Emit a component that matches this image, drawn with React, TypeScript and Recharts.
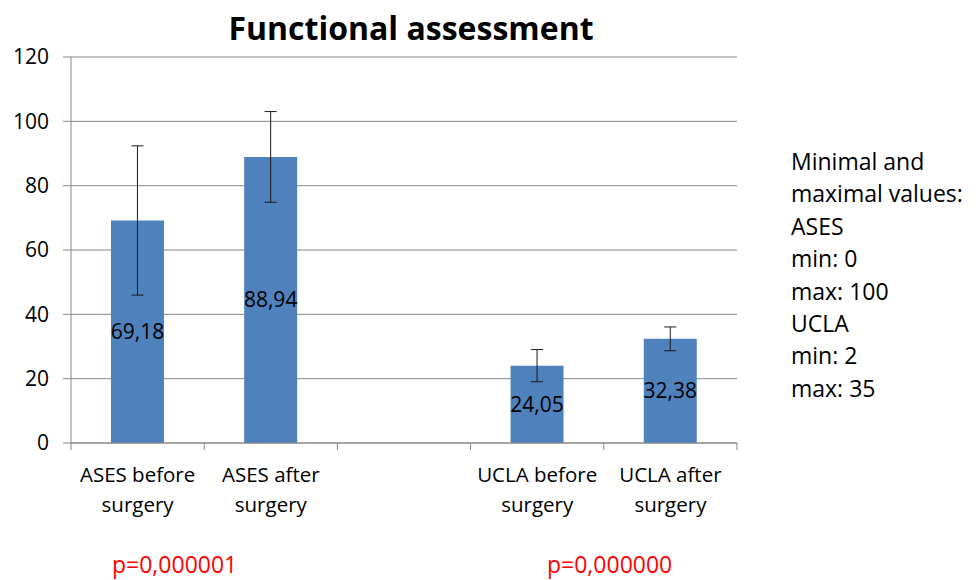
import React from "react";
import {
  BarChart,
  Bar,
  XAxis,
  YAxis,
  CartesianGrid,
  ErrorBar,
  LabelList,
} from "recharts";

const categories = [
  "ASES before surgery",
  "ASES after surgery",
  "",
  "UCLA before surgery",
  "UCLA after surgery",
];
const means = [69.18, 88.94, null, 24.05, 32.38];
const errors = [23.2, 14.1, null, 5.0, 3.7];
const yTicks = [0, 20, 40, 60, 80, 100, 120];
const noteLines = [
  "Minimal and",
  "maximal values:",
  "ASES",
  "min: 0",
  "max: 100",
  "UCLA",
  "min: 2",
  "max: 35",
];
const pValues = ["p=0,000001", "p=0,000000"];

const data = categories.map((name, i) => ({
  name,
  value: means[i],
  err: errors[i],
}));

const FONT = "'Open Sans', sans-serif";
const GRID = "#868686";

function CategoryTick(props: any) {
  const { x, y, payload, index, visibleTicksCount } = props;
  const half = payload?.offset ?? 66.6;
  const words = String(payload.value).split(" ");
  const line1 = words.slice(0, 2).join(" ");
  const line2 = words.slice(2).join(" ");
  const last = index === visibleTicksCount - 1;
  return (
    <g>
      <line x1={x - half} x2={x - half} y1={y} y2={y + 7} stroke={GRID} />
      {last && (
        <line x1={x + half} x2={x + half} y1={y} y2={y + 7} stroke={GRID} />
      )}
      <text
        x={x}
        y={y}
        textAnchor="middle"
        fontFamily={FONT}
        fontSize={20.5}
        fill="#000"
      >
        <tspan x={x} dy={39}>
          {line1}
        </tspan>
        <tspan x={x} dy={30}>
          {line2}
        </tspan>
      </text>
    </g>
  );
}

export default function App() {
  return (
    <div
      style={{
        position: "absolute",
        left: 0,
        top: 0,
        width: 978,
        height: 580,
        background: "#fff",
        fontFamily: FONT,
      }}
    >
      <div
        style={{
          position: "absolute",
          left: 0,
          width: 822,
          top: 5,
          textAlign: "center",
          fontSize: 32,
          fontWeight: 700,
          lineHeight: "46px",
          color: "#000",
        }}
      >
        Functional assessment
      </div>
      <BarChart
        width={978}
        height={580}
        data={data}
        margin={{ top: 57, right: 241, bottom: 77, left: 0 }}
        barCategoryGap="30%"
      >
        <CartesianGrid vertical={false} stroke={GRID} strokeWidth={1} />
        <XAxis
          dataKey="name"
          height={60}
          tickSize={0}
          tickMargin={0}
          tickLine={false}
          axisLine={{ stroke: GRID }}
          tick={<CategoryTick />}
          interval={0}
        />
        <YAxis
          width={71}
          domain={[0, 120]}
          ticks={yTicks}
          tickSize={8}
          tickMargin={14}
          axisLine={{ stroke: GRID }}
          tickLine={{ stroke: GRID }}
          tick={{ fill: "#000", fontSize: 21, fontFamily: FONT }}
        />
        <Bar dataKey="value" fill="#4f81bd" isAnimationActive={false}>
          <ErrorBar
            dataKey="err"
            width={6}
            stroke="#1a1a1a"
            strokeWidth={1}
            direction="y"
          />
          <LabelList
            dataKey="value"
            position="center"
            formatter={(v: any) =>
              v == null ? "" : Number(v).toFixed(2).replace(".", ",")
            }
            style={{ fill: "#000", fontSize: 21, fontFamily: FONT }}
          />
        </Bar>
      </BarChart>
      <div
        style={{
          position: "absolute",
          left: 791,
          top: 145,
          fontSize: 23,
          lineHeight: "32.4px",
          color: "#000",
          whiteSpace: "nowrap",
        }}
      >
        {noteLines.map((l) => (
          <div key={l}>{l}</div>
        ))}
      </div>
      {pValues.map((p, i) => (
        <div
          key={p}
          style={{
            position: "absolute",
            left: i === 0 ? 112 : 547,
            top: 548,
            fontSize: 23,
            lineHeight: "32px",
            color: "#ff0000",
            whiteSpace: "nowrap",
          }}
        >
          {p}
        </div>
      ))}
    </div>
  );
}
